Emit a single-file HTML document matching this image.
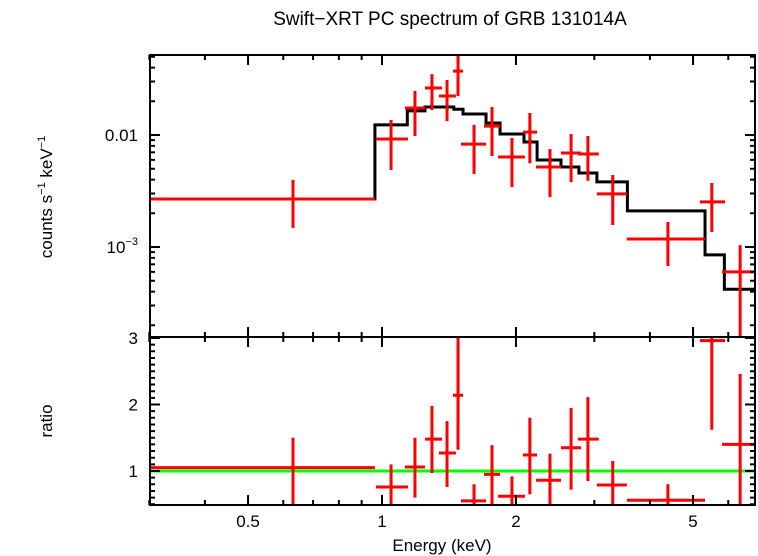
<!DOCTYPE html>
<html><head><meta charset="utf-8"><style>
body{margin:0;background:#fff;}
svg{display:block;font-family:"Liberation Sans",sans-serif;}
</style></head><body>
<svg id="c" width="758" height="556"></svg>
<script>
// data arrays
const binLo=[0.30,0.969,1.126,1.249,1.343,1.444,1.505,1.695,1.823,2.074,2.219,2.525,2.755,3.04,3.55,5.18,5.81];
const binHi=[0.964,1.144,1.249,1.364,1.466,1.521,1.713,1.842,2.095,2.231,2.525,2.80,3.07,3.55,5.32,5.90,6.88];
const binC=[0.631,1.048,1.186,1.295,1.400,1.482,1.610,1.767,1.959,2.149,2.385,2.66,2.902,3.30,4.39,5.51,6.38];
const flux=[2.68e-3,9.2e-3,0.0174,0.0263,0.0223,0.0372,8.3e-3,0.0120,6.36e-3,0.0106,5.18e-3,6.9e-3,6.77e-3,2.98e-3,1.18e-3,2.53e-3,6.0e-4];
const fluxLo=[1.48e-3,4.87e-3,9.8e-3,0.0167,0.0133,0.0223,4.5e-3,6.5e-3,3.43e-3,5.6e-3,2.79e-3,3.8e-3,3.9e-3,1.57e-3,6.76e-4,1.36e-3,1.5e-4];
const fluxHi=[3.97e-3,0.0136,0.0247,0.035,0.031,0.06,0.0123,0.0178,9.4e-3,0.0157,7.5e-3,0.0102,9.8e-3,4.39e-3,1.67e-3,3.73e-3,1.04e-3];
const ratio=[1.05,0.76,1.06,1.48,1.27,2.14,0.55,0.95,0.62,1.24,0.86,1.35,1.48,0.79,0.56,2.96,1.4];
const ratioLo=[0.4,0.4,0.6,0.97,0.76,1.32,0.4,0.4,0.4,0.65,0.4,0.72,0.85,0.4,0.4,1.62,0.4];
const ratioHi=[1.5,1.1,1.5,1.98,1.75,3.1,0.8,1.39,0.92,1.8,1.26,1.95,2.11,1.15,0.8,3.2,2.46];
const modelEdges=[0.30,0.964,1.14,1.249,1.45,1.521,1.713,1.842,2.085,2.231,2.525,2.77,3.04,3.56,5.32,5.88,6.88];
const modelVals=[2.68e-3,0.0123,0.0164,0.0178,0.0170,0.0154,0.0128,0.0102,8.66e-3,5.98e-3,5.18e-3,4.58e-3,3.81e-3,2.1e-3,8.5e-4,4.2e-4];
const xTickLabels=["0.5","1","2","5"];
const xTickVals=[0.5,1,2,5];
const ratioTicks=[1,2,3];

const L=150,R=755,T1=55,B1=337,B2=505;
const X=e=>382+445*Math.log10(e);
const Y1=v=>135-112*(Math.log10(v)+2);
const Y2=r=>471-66.5*(r-1);
const svg=document.getElementById('c');
const NS='http://www.w3.org/2000/svg';
function mk(tag,attrs,txt){const el=document.createElementNS(NS,tag);for(const k in attrs)el.setAttribute(k,attrs[k]);if(txt!=null)el.textContent=txt;svg.appendChild(el);return el;}
const cl=(v,a,b)=>Math.max(a,Math.min(b,v));

let d='';
for(let i=0;i<modelVals.length;i++){const x0=X(modelEdges[i]),x1=Math.min(R,X(modelEdges[i+1])),y=Y1(modelVals[i]);d+=(i?'L':'M')+x0+' '+y+' L'+x1+' '+y+' ';}
let m=mk('path',{d:d,fill:'none',stroke:'#000','stroke-width':3});



let g=mk('line',{x1:L,x2:R,y1:Y2(1),y2:Y2(1),stroke:'#00ff00','stroke-width':3});



for(let i=0;i<binC.length;i++){
  const xl=X(binLo[i]),xh=Math.min(R,X(binHi[i])),xc=X(binC[i]);
  let p=mk('path',{d:`M${xl} ${Y1(flux[i])}H${xh}M${xc} ${cl(Y1(fluxHi[i]),T1,B1)}V${cl(Y1(fluxLo[i]),T1,B1)}`,stroke:'#ff0000','stroke-width':3,fill:'none'});
  
  
  let q=mk('path',{d:`M${xl} ${cl(Y2(ratio[i]),B1,B2)}H${xh}M${xc} ${cl(Y2(ratioHi[i]),B1,B2)}V${cl(Y2(ratioLo[i]),B1,B2)}`,stroke:'#ff0000','stroke-width':3,fill:'none'});
  
  
}

let f1=mk('rect',{x:L,y:T1,width:R-L,height:B1-T1,fill:'none',stroke:'#000','stroke-width':2});


let f2=mk('rect',{x:L,y:B1,width:R-L,height:B2-B1,fill:'none',stroke:'#000','stroke-width':2});



let td='';
const xt=[0.3,0.4,0.5,0.6,0.7,0.8,0.9,1,2,3,4,5,6];
xt.forEach(e=>{const x=X(e);const len=(e===1||e===0.5||e===2||e===5)?10:5;
 td+=`M${x} ${T1}v${len}M${x} ${B1}v${-len}M${x} ${B1}v${len}M${x} ${B2}v${-len}`;});
[2e-4,3e-4,4e-4,5e-4,6e-4,7e-4,8e-4,9e-4,1e-3,2e-3,3e-3,4e-3,5e-3,6e-3,7e-3,8e-3,9e-3,0.01,0.02,0.03,0.04,0.05].forEach(v=>{const y=Y1(v);const len=(v===1e-3||v===0.01)?10:5;td+=`M${L} ${y}h${len}M${R} ${y}h${-len}`;});
for(let r=0.5;r<=3.001;r+=0.1){const y=Y2(r);const maj=Math.abs(r-Math.round(r))<0.01;const len=maj?10:5;td+=`M${L} ${y}h${len}M${R} ${y}h${-len}`;}
let tk=mk('path',{d:td,stroke:'#000','stroke-width':2,fill:'none'});



xTickVals.forEach((v,i)=>{let t=mk('text',{x:X(v),y:527,'font-size':17,'text-anchor':'middle'},xTickLabels[i]);
 
 });
ratioTicks.forEach(r=>{let t=mk('text',{x:138,y:Y2(r)+6,'font-size':17,'text-anchor':'end'},String(r));
 
 });
</script>
<svg width="758" height="556" style="position:absolute;left:0;top:0">
<text x="450" y="25" font-size="19" text-anchor="middle">Swift−XRT PC spectrum of GRB 131014A</text>
<text x="138" y="141" font-size="17" text-anchor="end">0.01</text>
<text x="138" y="253" font-size="17" text-anchor="end">10<tspan font-size="11" dy="-8">−3</tspan></text>
<text transform="translate(52,197) rotate(-90)" font-size="17" text-anchor="middle">counts s<tspan font-size="11" dy="-7">−1</tspan><tspan dy="7"> keV</tspan><tspan font-size="11" dy="-7">−1</tspan></text>
<text transform="translate(52,421) rotate(-90)" font-size="17" text-anchor="middle">ratio</text>
<text x="442" y="551" font-size="17" text-anchor="middle">Energy (keV)</text>
</svg>
</body></html>
